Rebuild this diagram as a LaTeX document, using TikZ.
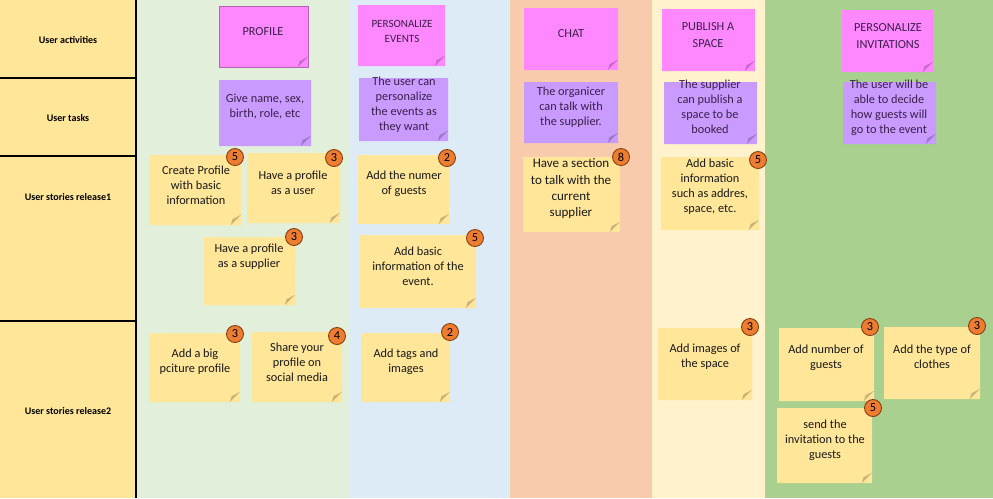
\documentclass[tikz,border=0pt]{standalone}
\usepackage{fontspec}
\setmainfont{Carlito}
\usetikzlibrary{shapes.misc}

\definecolor{labelbg}{HTML}{FFE699}
\definecolor{greenbg}{HTML}{E2EFDA}
\definecolor{bluebg}{HTML}{DDEBF7}
\definecolor{peachbg}{HTML}{F8CBAD}
\definecolor{creambg}{HTML}{FFF2CC}
\definecolor{leafbg}{HTML}{A9D08E}
\definecolor{pinknote}{HTML}{FF88FF}
\definecolor{lilacnote}{HTML}{C99BFF}
\definecolor{yellownote}{HTML}{FFE699}
\definecolor{badgefill}{HTML}{ED7D31}
\definecolor{badgeline}{HTML}{843C0C}
\definecolor{plumtext}{HTML}{3B1F4B}

\tikzset{
  note/.style={chamfered rectangle, chamfered rectangle corners=south east,
    chamfered rectangle xsep=5.5pt, chamfered rectangle ysep=5.5pt, inner sep=0pt,
    path picture={\fill[black,opacity=0.22]
      ([xshift=-5.8pt]path picture bounding box.south east) --
      ([yshift=5.8pt]path picture bounding box.south east) --
      ([xshift=-4.8pt,yshift=3.3pt]path picture bounding box.south east) -- cycle;}},
  wh/.style 2 args={minimum width=#1*0.02cm, minimum height=#2*0.02cm},
  activity/.style={note, fill=pinknote},
  task/.style={note, fill=lilacnote},
  story/.style={note, fill=yellownote},
  txt/.style={align=center, inner sep=0pt, text=black!90, font=\fontsize{7}{8.5}\selectfont},
  plum/.style={txt, text=plumtext},
  badge/.style={circle, fill=badgefill, draw=badgeline, line width=0.5pt,
    minimum size=0.34cm, inner sep=0pt, font=\fontsize{7}{8}\selectfont},
  rowlabel/.style={inner sep=0pt, font=\fontsize{5.7}{7}\selectfont\bfseries}
}

\begin{document}
\begin{tikzpicture}[x=0.02cm,y=-0.02cm]
	\useasboundingbox (0,0) rectangle (993,498);
	% lanes
	\fill[labelbg] (0,0) rectangle (136,498);
	\fill[greenbg] (136,0) rectangle (349,498);
	\fill[bluebg] (349,0) rectangle (510,498);
	\fill[peachbg] (510,0) rectangle (652,498);
	\fill[creambg] (652,0) rectangle (765,498);
	\fill[leafbg] (765,0) rectangle (993,498);
	\draw[line width=0.7pt] (0,78) -- (136,78);
	\draw[line width=0.7pt] (0,156) -- (136,156);
	\draw[line width=0.7pt] (0,321) -- (136,321);
	\draw[line width=0.7pt] (136,0) -- (136,498);

	\node[rowlabel] (ua) at (68,40) {User activities};
	\node[rowlabel] (ut) at (68,118) {User tasks};
	\node[rowlabel] (us1) at (68,197) {User stories release1};
	\node[rowlabel] (us2) at (68,411) {User stories release2};

	% activities
	\node[activity,wh={89}{61},draw=violet!60,line width=0.4pt] (a-profile) at (263.5,36.5) {};
	\node[activity,wh={87}{61}] (a-events) at (401.5,35.5) {};
	\node[activity,wh={94}{62}] (a-chat) at (571,39) {};
	\node[activity,wh={93}{62}] (a-space) at (708.5,40) {};
	\node[activity,wh={91}{62}] (a-invit) at (887.5,41) {};
	\node[plum] (a-profile-t) at (263,32) {PROFILE};
	\node[plum,font=\fontsize{6.3}{8.5}\selectfont] (a-events-t) at (402,31) {PERSONALIZE\\EVENTS};
	\node[plum] (a-chat-t) at (571,34) {CHAT};
	\node[plum,font=\fontsize{7}{9.3}\selectfont] (a-space-t) at (708,35) {PUBLISH A\\SPACE};
	\node[plum,font=\fontsize{7}{9.3}\selectfont] (a-invit-t) at (888,36) {PERSONALIZE\\INVITATIONS};

	% tasks
	\node[task,wh={92}{66}] (t-profile) at (265,113) {};
	\node[task,wh={89}{63}] (t-events) at (403.5,109.5) {};
	\node[task,wh={94}{61}] (t-chat) at (571,112.5) {};
	\node[task,wh={93}{62}] (t-space) at (710.5,113) {};
	\node[task,wh={93}{62}] (t-invit) at (889.5,113) {};
	\node[plum] (t-profile-t) at (265,107) {Give name, sex,\\birth, role, etc};
	\node[plum] (t-events-t) at (404,105) {The user can\\personalize\\the events as\\they want};
	\node[plum] (t-chat-t) at (571,107) {The organicer\\can talk with\\the supplier.};
	\node[plum] (t-space-t) at (710,107) {The supplier\\can publish a\\space to be\\booked};
	\node[plum] (t-invit-t) at (889,108) {The user will be\\able to decide\\how guests will\\go to the event};

	% stories
	\node[story,wh={91}{70}] (s-create) at (195.5,190) {};
	\node[story,wh={93}{70}] (s-user) at (293.5,188) {};
	\node[story,wh={91}{68}] (s-supplier) at (249.5,271) {};
	\node[story,wh={90}{69}] (s-picture) at (195,367.5) {};
	\node[story,wh={90}{70}] (s-share) at (297,367) {};
	\node[story,wh={91}{69}] (s-guests) at (403.5,189.5) {};
	\node[story,wh={116}{73}] (s-basic) at (418,271.5) {};
	\node[story,wh={89}{69}] (s-tags) at (405.5,367.5) {};
	\node[story,wh={97}{75}] (s-section) at (571.5,194.5) {};
	\node[story,wh={98}{73}] (s-address) at (710,193.5) {};
	\node[story,wh={94}{72}] (s-images) at (705,364) {};
	\node[story,wh={95}{73}] (s-number) at (826.5,364.5) {};
	\node[story,wh={96}{72}] (s-clothes) at (932,363) {};
	\node[story,wh={95}{75}] (s-send) at (824.5,445.5) {};

	\node[txt] (s-create-t) at (196,185) {Create Profile\\with basic\\information};
	\node[txt] (s-user-t) at (293,183) {Have a profile\\as a user};
	\node[txt] (s-supplier-t) at (249,257) {Have a profile\\as a supplier};
	\node[txt] (s-picture-t) at (195,362) {Add a big\\pciture profile};
	\node[txt] (s-share-t) at (297,362) {Share your\\profile on\\social media};
	\node[txt] (s-guests-t) at (404,184) {Add the numer\\of guests};
	\node[txt] (s-basic-t) at (418,266) {Add basic\\information of the\\event.};
	\node[txt] (s-tags-t) at (406,362) {Add tags and\\images};
	\node[txt,font=\fontsize{7.4}{9.3}\selectfont] (s-section-t) at (571,189) {Have a section\\to talk with the\\current\\supplier};
	\node[txt] (s-address-t) at (710,187) {Add basic\\information\\such as addres,\\space, etc.};
	\node[txt] (s-images-t) at (705,357) {Add images of\\the space};
	\node[txt] (s-number-t) at (826,358) {Add number of\\guests};
	\node[txt] (s-clothes-t) at (932,357) {Add the type of\\clothes};
	\node[txt] (s-send-t) at (825,440) {send the\\invitation to the\\guests};

	% points
	\node[badge] (b-create) at (235,157) {5};
	\node[badge] (b-user) at (334,158) {3};
	\node[badge] (b-supplier) at (294,237) {3};
	\node[badge] (b-picture) at (235,334) {3};
	\node[badge] (b-share) at (337,336) {4};
	\node[badge] (b-guests) at (447,158) {2};
	\node[badge] (b-basic) at (475,238) {5};
	\node[badge] (b-tags) at (450,332) {2};
	\node[badge] (b-section) at (621,157) {8};
	\node[badge] (b-address) at (758,160) {5};
	\node[badge] (b-images) at (750,327) {3};
	\node[badge] (b-number) at (870,327) {3};
	\node[badge] (b-clothes) at (977,326) {3};
	\node[badge] (b-send) at (873,408) {5};
\end{tikzpicture}
\end{document}
